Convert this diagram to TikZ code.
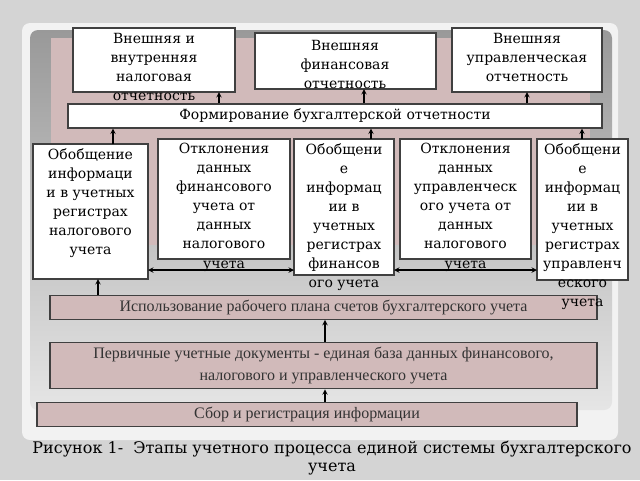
\documentclass[tikz,border=0pt]{standalone}
\usepackage{fontspec}
\setmainfont{DejaVu Serif}
\newfontfamily\scanfont{Liberation Serif}
\usepackage{tikz}
\usetikzlibrary{positioning}

\begin{document}
\begin{tikzpicture}[x=0.75pt,y=-0.75pt,
        box/.style={rectangle, draw=black!75, fill=white, thick},
        txt/.style={anchor=north, align=center, font=\fontsize{10.5}{14.3}\selectfont, inner sep=0pt},
        band/.style={rectangle, draw=black!75, fill=red!20!gray!45, thick},
        bandtxt/.style={align=center, font=\scanfont\fontsize{12}{17}\selectfont, text=black!80},
        up/.style={->, >=stealth, thick},
        both/.style={<->, >=stealth, thick}
      ]
        % background and slide
        \fill[black!17] (0,0) rectangle (640,480);
        \fill[black!5, rounded corners=6pt] (22,23) rectangle (618,440);
        \shade[top color=black!40, bottom color=black!10, rounded corners=6pt] (30,30) rectangle (612,410);
        \fill[red!20!gray!45] (51,38) rectangle (590,245);

        % top row
        \draw[box] (73,28) rectangle (235,92);
        \node[txt] (ext1) at (154,33) {Внешняя и\\внутренняя\\налоговая\\отчетность};
        \draw[box] (255,33) rectangle (436,89);
        \node[txt] (ext2) at (345,40) {Внешняя\\финансовая\\отчетность};
        \draw[box] (452,28) rectangle (602,92);
        \node[txt] (ext3) at (527,33) {Внешняя\\управленческая\\отчетность};

        \node[box, minimum width=534*0.75pt, minimum height=24*0.75pt, font=\fontsize{10.5}{14}\selectfont] (form) at (335,116) {Формирование бухгалтерской отчетности};

        % middle row
        \draw[box] (33,144) rectangle (148,279);
        \node[txt] (tax) at (90.5,148) {Обобщение\\информаци\\и в учетных\\регистрах\\налогового\\учета};
        \draw[box] (158,139) rectangle (290,259);
        \node[txt] (dev1) at (224,143) {Отклонения\\данных\\финансового\\учета от\\данных\\налогового\\учета};
        \draw[box] (294,139) rectangle (394,275);
        \node[txt] (fin) at (344,143) {Обобщени\\е\\информац\\ии в\\учетных\\регистрах\\финансов\\ого учета};
        \draw[box] (400,139) rectangle (531,259);
        \node[txt] (dev2) at (465.5,143) {Отклонения\\данных\\управленческ\\ого учета от\\данных\\налогового\\учета};
        \draw[box] (537,139) rectangle (628,280);

        \coordinate (taxE) at (148,270);
        \coordinate (finW) at (294,270);
        \coordinate (finE) at (394,270);
        \coordinate (mgmtW) at (537,270);
        \draw[both] (taxE) -- (finW);
        \draw[both] (finE) -- (mgmtW);

        % lower bands
        \node[band, minimum width=547*0.75pt, minimum height=23*0.75pt, bandtxt] (plan) at (323.5,307.5) {Использование рабочего плана счетов бухгалтерского учета};
        \node[band, minimum width=547*0.75pt, minimum height=41*0.75pt, bandtxt] (docs) at (323.5,365.5) {Первичные учетные документы - единая база данных финансового,\\налогового и управленческого учета};
        \node[band, minimum width=540*0.75pt, minimum height=23*0.75pt, bandtxt] (coll) at (307,414.5) {Сбор и регистрация информации};

        % text of the last box runs over the band
        \node[txt] (mgmt) at (582.5,143) {Обобщени\\е\\информац\\ии в\\учетных\\регистрах\\управленч\\еского\\учета};

        % arrows up
        \draw[up] (form.north -| 219,0) -- (219,92);
        \draw[up] (form.north -| 364,0) -- (364,89);
        \draw[up] (form.north -| 527,0) -- (527,92);
        \draw[up] (113,144) -- (form.south -| 113,0);
        \draw[up] (371,139) -- (form.south -| 371,0);
        \draw[up] (582,139) -- (form.south -| 582,0);
        \draw[up] (plan.north -| 98,0) -- (98,279);
        \draw[up] (docs.north -| 325,0) -- (plan.south -| 325,0);
        \draw[up] (coll.north -| 325,0) -- (docs.south -| 325,0);

        \node[align=center, font=\fontsize{12}{14}\selectfont] (caption) at (332,458) {Рисунок 1-\ \ Этапы учетного процесса единой системы бухгалтерского\\учета};
      \end{tikzpicture}
\end{document}
